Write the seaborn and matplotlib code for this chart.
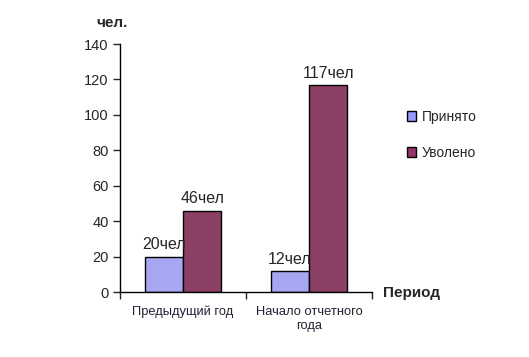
import matplotlib
matplotlib.use('Agg')
import matplotlib.pyplot as plt
import seaborn as sns
import pandas as pd
from matplotlib.patches import Patch

# data
periods = ['Предыдущий год', 'Начало отчетного\nгода']
hired = [20, 12]
fired = [46, 117]
series = ['Принято', 'Уволено']
colors = ['#9999FF', '#993366']

df = pd.DataFrame({
    'period': periods * 2,
    'value': hired + fired,
    'kind': [series[0]] * 2 + [series[1]] * 2,
})

sns.set_style('white')
plt.rcParams['font.family'] = ['Liberation Sans', 'DejaVu Sans']

fig = plt.figure(figsize=(5.29, 3.57), dpi=100)
ax = fig.add_axes([0.2268, 0.182, 0.4764, 0.6947])

sns.barplot(data=df, x='period', y='value', hue='kind', palette=colors,
            width=0.61, edgecolor='black', linewidth=1, legend=False, ax=ax)

for cont in ax.containers:
    vals = [int(b.get_height()) for b in cont]
    ax.bar_label(cont, labels=[f'{v}чел' for v in vals], padding=3, fontsize=11.5)

ax.set_ylim(0, 140)
ax.set_yticks(range(0, 141, 20))
ax.set_xlim(-0.5, 1.5)
ax.set_xlabel('')
ax.set_ylabel('')
ax.tick_params(axis='y', labelsize=10.5, length=5, width=1, direction='out', left=True, pad=3)
ax.set_xticks([0, 1])
ax.set_xticklabels(periods, fontsize=9.3, color='#222233', linespacing=1.25)
ax.tick_params(axis='x', length=0, pad=10)
ax.set_xticks([-0.5, 0.5, 1.5], minor=True)
ax.tick_params(axis='x', which='minor', length=5, width=1, bottom=True)
for s in ['top', 'right']:
    ax.spines[s].set_visible(False)
for s in ['left', 'bottom']:
    ax.spines[s].set_color('black')
    ax.spines[s].set_linewidth(1)

fig.text(0.211, 0.935, 'чел.', fontsize=11, fontweight='bold', ha='center', va='center')
fig.text(0.724, 0.178, 'Период', fontsize=11, fontweight='bold', ha='left', va='center')

handles = [Patch(facecolor=c, edgecolor='black', linewidth=1) for c in colors]
fig.legend(handles, series, loc='center left', bbox_to_anchor=(0.745, 0.622),
           frameon=False, fontsize=10, handlelength=0.7, handleheight=0.7,
           handletextpad=0.4, labelspacing=1.6)

fig.savefig('out.png', dpi=100)
